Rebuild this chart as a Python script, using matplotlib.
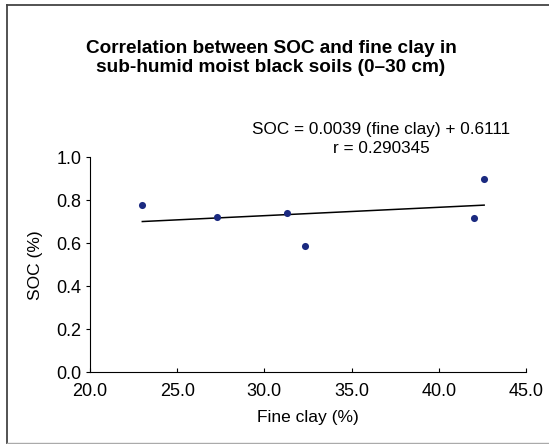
#!/usr/bin/env python3
"""SOC vs fine clay scatter with linear fit (sub-humid moist black soils, 0-30 cm)."""

import numpy as np
import matplotlib
matplotlib.use('Agg')
import matplotlib.pyplot as plt
from matplotlib.lines import Line2D
from matplotlib.ticker import FormatStrFormatter

plt.rcParams['font.family'] = ['Liberation Sans', 'DejaVu Sans']

# data
fine_clay = [23.0, 27.3, 31.3, 32.3, 42.0, 42.6]
soc = [0.78, 0.72, 0.74, 0.585, 0.715, 0.90]

# fitted line, from the printed equation
slope = 0.0039
intercept = 0.6111
r_value = '0.290345'

x_ticks = [20.0, 25.0, 30.0, 35.0, 40.0, 45.0]
y_ticks = [0.0, 0.2, 0.4, 0.6, 0.8, 1.0]

W, H = 549, 444
fig = plt.figure(figsize=(W / 100, H / 100), dpi=100)
ax = fig.add_axes([90 / W, 1 - 372 / H, 436 / W, 214.7 / H])

ax.scatter(fine_clay, soc, s=26, color='#1b2a80', zorder=3, linewidths=0)
xf = np.array([min(fine_clay), max(fine_clay)])
ax.plot(xf, slope * xf + intercept, color='black', linewidth=1.1, zorder=2)

ax.set_xlim(20, 45)
ax.set_ylim(0, 1.0)
ax.set_xticks(x_ticks)
ax.set_yticks(y_ticks)
ax.xaxis.set_major_formatter(FormatStrFormatter('%.1f'))
ax.yaxis.set_major_formatter(FormatStrFormatter('%.1f'))

for s in ['top', 'right']:
    ax.spines[s].set_visible(False)
for s in ['left', 'bottom']:
    ax.spines[s].set_linewidth(0.8)

ax.tick_params(axis='x', direction='in', length=3, width=0.8, pad=8, labelsize=13)
ax.tick_params(axis='y', direction='out', length=3, width=0.8, pad=3, labelsize=13)

ax.set_xlabel('Fine clay (%)', fontsize=12.5)
ax.set_ylabel('SOC (%)', fontsize=12.5)
ax.xaxis.set_label_coords(308 / W, 1 - 410 / H, transform=fig.transFigure)
ax.yaxis.set_label_coords(43 / W, 1 - 265 / H, transform=fig.transFigure)

fig.text(271 / W, 1 - 58 / H,
         'Correlation between SOC and fine clay in\nsub-humid moist black soils (0\u201330 cm)',
         ha='center', va='center', fontsize=13.7, fontweight='bold', linespacing=1.1)

fig.text(381 / W, 1 - 139 / H,
         f'SOC = {slope:.4f} (fine clay) + {intercept:.4f}\nr = {r_value}',
         ha='center', va='center', fontsize=12.3, linespacing=1.32)

# frame edges of the original figure box
fig.add_artist(Line2D([7.3 / W, 7.3 / W], [0, 1 - 5.5 / H], transform=fig.transFigure,
                      color='#444444', linewidth=1.3))
fig.add_artist(Line2D([7.3 / W, 1], [1 - 5.5 / H, 1 - 5.5 / H], transform=fig.transFigure,
                      color='#444444', linewidth=1.3))
fig.add_artist(Line2D([7.3 / W, 1], [1 - 442.5 / H, 1 - 442.5 / H], transform=fig.transFigure,
                      color='#aaaaaa', linewidth=1.0))

fig.savefig('out.png', dpi=100)
